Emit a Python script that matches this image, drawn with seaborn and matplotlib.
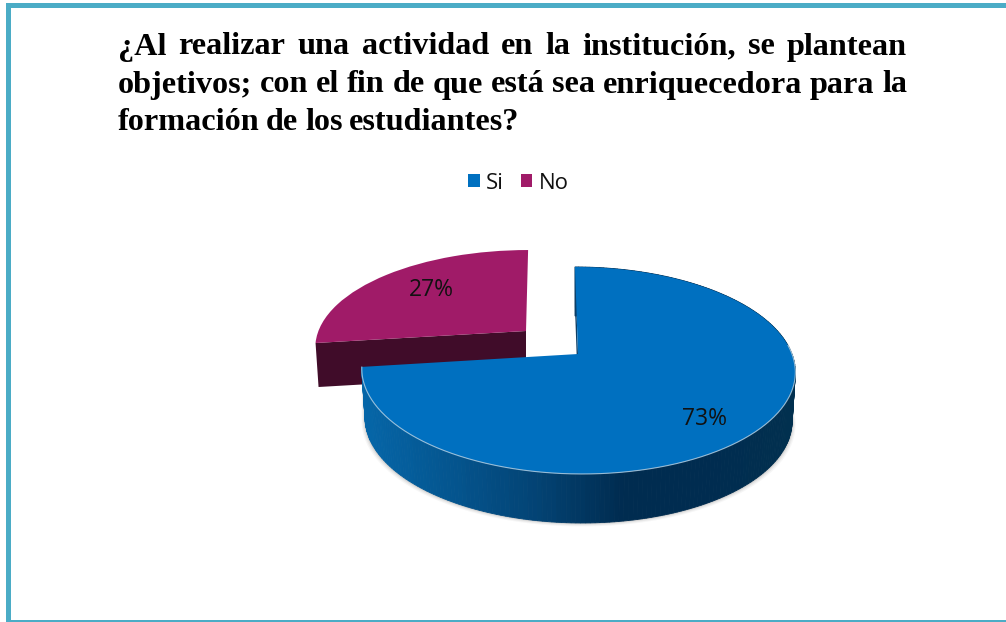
import numpy as np
import matplotlib
matplotlib.use("Agg")
import matplotlib.pyplot as plt
import matplotlib.transforms as mtransforms
from matplotlib.patches import Patch, Polygon, Rectangle
import seaborn as sns

# -----------------------------
# Data
# -----------------------------
categories = ["Si", "No"]
shares = [73, 27]
title_lines = [
    "¿Al realizar una actividad en la institución, se plantean",
    "objetivos; con el fin de que está sea enriquecedora para la",
    "formación de los estudiantes?",
]

BLUE = "#0070C0"
PURPLE = "#A01B68"
PURPLE_DARK = "#400C29"
BORDER = "#4BACC6"


# Tilted disc: pie coordinates -> picture pixels
class Tilt(mtransforms.Transform):
    input_dims = 2
    output_dims = 2

    def __init__(self, apex, scale=1.0, scale_y=1.0, lean=0.035):
        super().__init__()
        self.apex = apex
        self.scale_by = scale
        self.scale_y = scale_y
        self.lean = lean

    def transform_non_affine(self, values):
        values = np.asarray(values, dtype=float)
        u, v = values[:, 0], values[:, 1]
        den = 1 + 0.159 * v
        s = 100.9 * v / den
        x = 214 * u / den - self.lean * s
        return np.column_stack([self.apex[0] + self.scale_by * x,
                                self.apex[1] - self.scale_y * s])


def rim(tilt, theta1, theta2, n=240):
    t = np.radians(np.linspace(theta1, theta2, n))
    return tilt.transform_non_affine(np.column_stack([np.cos(t), np.sin(t)]))


def extrude(points, centre_x, depth, shrink=0.985):
    low = points.copy()
    low[:, 0] = centre_x + (low[:, 0] - centre_x) * shrink
    low[:, 1] += depth
    return low


sns.set_theme(style="white")
plt.rcParams["font.family"] = ["Open Sans", "DejaVu Sans"]

fig = plt.figure(figsize=(10.06, 6.22), dpi=100)
ax = fig.add_axes([0, 0, 1, 1])

wedges, _, pct_texts = ax.pie(shares, colors=[BLUE, PURPLE], startangle=90,
                              counterclock=False, autopct="%d%%", pctdistance=0.75,
                              wedgeprops={"linewidth": 0})
ax.set_aspect("auto")
ax.set_xlim(0, 1006)
ax.set_ylim(622, 0)
ax.axis("off")

tilt_blue = Tilt((578, 354))
tilt_purple = Tilt((526, 331), scale=0.97, scale_y=0.93, lean=-0.025)

# -----------------------------
# Purple slice: front wall and top
# -----------------------------
w_blue, w_purple = wedges
left_edge = rim(tilt_purple, w_purple.theta2, w_purple.theta2, 2)[0]
apex_p = np.array(tilt_purple.apex, dtype=float)
wall = np.array([left_edge, apex_p, apex_p + [0, 44], left_edge + [3, 44]])
ax.add_patch(Polygon(wall, closed=True, fc=PURPLE_DARK, ec="none", zorder=2))
w_purple.set_transform(tilt_purple + ax.transData)
w_purple.set_zorder(3)

# -----------------------------
# Blue slice: shadow, side wall and top
# -----------------------------
top_rim = rim(tilt_blue, w_blue.theta1, w_blue.theta2)
low_rim = extrude(top_rim, 578, 49)

for grow, alpha in [(3.5, 0.05), (2.5, 0.07), (1.5, 0.10), (0.7, 0.14)]:
    shadow = extrude(top_rim, 578, 49 + grow, shrink=0.985 + grow / 220)
    ax.add_patch(Polygon(np.vstack([top_rim, shadow[::-1]]), closed=True,
                         fc="#555555", ec="none", alpha=alpha, zorder=3.5))

side_colors = sns.blend_palette(["#0566A8", "#04558F", "#034374", "#002C50",
                                 "#002C50", "#01304F"], 120)
x_min, x_max = top_rim[:, 0].min(), top_rim[:, 0].max()
for i in range(len(top_rim) - 1):
    quad = [top_rim[i], top_rim[i + 1], low_rim[i + 1], low_rim[i]]
    mid = (top_rim[i, 0] + top_rim[i + 1, 0]) / 2
    c = side_colors[int((mid - x_min) / (x_max - x_min) * 119)]
    ax.add_patch(Polygon(quad, closed=True, fc=c, ec=c, lw=0.6, zorder=4))

# inner wall seen through the gap
start_top = rim(tilt_blue, w_blue.theta2, w_blue.theta2, 2)[0]
apex_b = np.array(tilt_blue.apex, dtype=float)
inner = [apex_b, start_top, start_top + [0, 40], apex_b + [0, 40]]
ax.add_patch(Polygon(inner, closed=True, fc="#0E3F66", ec="none", zorder=4.5))

w_blue.set_transform(tilt_blue + ax.transData)
w_blue.set_zorder(5)

# thin light edge along the front of the rim only
front_rim = rim(tilt_blue, w_blue.theta1, 5)
ax.plot(front_rim[:, 0], front_rim[:, 1], color="#BBD4E6", lw=0.8, zorder=5.5,
        solid_capstyle="round", alpha=0.8)

# -----------------------------
# Percent labels
# -----------------------------
for txt, pos in zip(pct_texts, [(705, 419), (431, 290)]):
    txt.set_position(pos)
    txt.set_color("#111111")
    txt.set_fontsize(16.5)
    txt.set_zorder(7)

# -----------------------------
# Frame
# -----------------------------
ax.add_patch(Rectangle((6, 3), 5, 619, fc=BORDER, ec="none", zorder=1))
ax.add_patch(Rectangle((6, 3), 1000, 5, fc=BORDER, ec="none", zorder=1))
ax.add_patch(Rectangle((6, 619.5), 1000, 2.5, fc=BORDER, ec="none", zorder=1))

# -----------------------------
# Justified title
# -----------------------------
renderer = fig.canvas.get_renderer()
title_font = {"family": "Liberation Serif", "weight": "bold", "size": 23.2,
              "color": "#000000", "va": "baseline", "ha": "left", "zorder": 8}
title_x0, title_x1 = 118, 907
for n, line in enumerate(title_lines):
    y = 54.5 + n * 38
    words = line.split(" ")
    items = [ax.text(title_x0, y, w, **title_font) for w in words]
    widths = [t.get_window_extent(renderer).width for t in items]
    if n < len(title_lines) - 1:
        gap = (title_x1 - title_x0 - sum(widths)) / (len(words) - 1)
    else:
        gap = 6.5
    x = title_x0
    for t, w in zip(items, widths):
        t.set_x(x)
        x += w + gap

# -----------------------------
# Legend
# -----------------------------
handles = [Patch(facecolor=BLUE, edgecolor="none", label=categories[0]),
           Patch(facecolor=PURPLE, edgecolor="none", label=categories[1])]
ax.legend(handles=handles, ncol=2, frameon=False, fontsize=16,
          loc="center", bbox_to_anchor=(518.5 / 1006, 1 - 183 / 622),
          handlelength=0.5, handleheight=0.5, handletextpad=0.3, columnspacing=0.75,
          labelcolor="#111111")

fig.savefig("out.png", dpi=100)
